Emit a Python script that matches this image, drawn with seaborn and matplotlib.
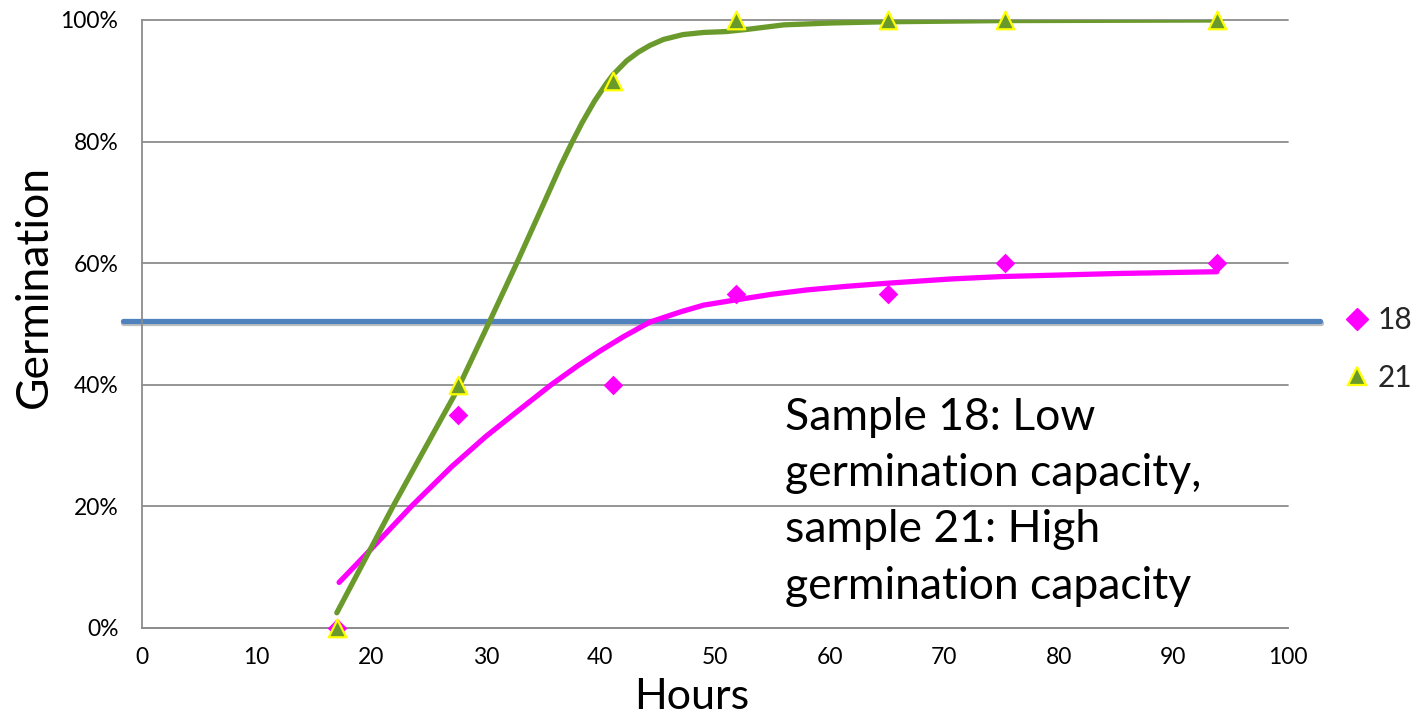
import matplotlib
matplotlib.use("Agg")
import matplotlib.pyplot as plt
import matplotlib.patheffects as pe
from matplotlib.lines import Line2D
from matplotlib.ticker import PercentFormatter, MultipleLocator
import seaborn as sns

# ---------------- data ----------------
hours = [17, 27.6, 41.1, 51.8, 65.1, 75.3, 93.8]
sample_18 = [0, 35, 40, 55, 55, 60, 60]
sample_21 = [0, 40, 90, 100, 100, 100, 100]

trend18_hours = [17.2, 20, 23.5, 27, 30, 33, 35.7, 38, 40, 42, 44.3, 47, 49, 51.6,
                 55, 58, 61.5, 65, 70.5, 75, 85, 93.8]
trend18_values = [7.5, 13, 20, 26.5, 31.5, 36, 40, 43.1, 45.6, 47.9, 50.3, 52.0, 53.1, 53.9,
                  54.9, 55.6, 56.2, 56.7, 57.4, 57.8, 58.3, 58.6]

trend21_hours = [17, 21.9, 25, 27.5, 30.4, 32.7, 35, 36.5, 37.5, 38.4, 39.5, 40.5, 41.1, 42.3,
                 43.3, 44.3, 45.5, 47.2, 49, 51, 53, 56, 60, 64.7, 75, 93.8]
trend21_values = [2.5, 20, 30.6, 39.1, 50.7, 60, 69.6, 75.9, 79.8, 83.1, 86.7, 89.5, 91.0, 93.3,
                  94.7, 95.8, 96.8, 97.6, 97.95, 98.1, 98.5, 99.2, 99.5, 99.7, 99.9, 100]

threshold_value = 50.5
threshold_span = [-1.7, 102.8]

legend_labels = ["18", "21"]
note_text = "Sample 18: Low\ngermination capacity,\nsample 21: High\ngermination capacity"

# ---------------- style ----------------
sns.set_theme(style="white")
plt.rcParams["font.family"] = ["Lato", "DejaVu Sans"]

MAGENTA = "#FF00FF"
GREEN = "#6B9A2C"
YELLOW = "#FFFF00"
BLUE = "#4F81BD"
GRAY = "#8C8C8C"

fig = plt.figure(figsize=(14.14, 7.19), dpi=100)
ax = fig.add_axes([142 / 1414, 1 - 628 / 719, (1288 - 142) / 1414, (628 - 20) / 719])

# threshold line (extends beyond the plot area)
sns.lineplot(x=threshold_span, y=[threshold_value] * len(threshold_span), ax=ax,
             color=BLUE, linewidth=3.8, clip_on=False, zorder=2, estimator=None,
             path_effects=[pe.SimpleLineShadow(offset=(0.3, -1.8), shadow_color="black", alpha=0.25),
                           pe.Normal()])

# trend curves
sns.lineplot(x=trend18_hours, y=trend18_values, ax=ax, color=MAGENTA, linewidth=3.8,
             zorder=3, estimator=None, sort=False)
sns.lineplot(x=trend21_hours, y=trend21_values, ax=ax, color=GREEN, linewidth=3.8,
             zorder=3, estimator=None, sort=False)

# markers
sns.scatterplot(x=hours, y=sample_18, ax=ax, marker="D", s=100, color=MAGENTA,
                linewidth=0, zorder=4, clip_on=False)
sns.scatterplot(x=hours, y=sample_21, ax=ax, marker="^", s=160, color=GREEN,
                edgecolor=YELLOW, linewidth=1.6, zorder=5, clip_on=False)

# axes
ax.set_xlim(0, 100)
ax.set_ylim(0, 100)
ax.xaxis.set_major_locator(MultipleLocator(10))
ax.yaxis.set_major_locator(MultipleLocator(20))
ax.yaxis.set_major_formatter(PercentFormatter(100, decimals=0))
ax.grid(axis="y", color=GRAY, linewidth=1.3)
ax.grid(axis="x", visible=False)
for g in ax.get_ygridlines():
    g.set_clip_on(False)
for side in ("top", "right"):
    ax.spines[side].set_visible(False)
for side in ("left", "bottom"):
    ax.spines[side].set_color(GRAY)
    ax.spines[side].set_linewidth(1.3)
ax.tick_params(axis="both", direction="out", length=6, width=1.3, color=GRAY,
               labelsize=16.5, labelcolor="black")
ax.tick_params(axis="y", pad=11)
ax.tick_params(axis="x", pad=8)

ax.set_xlabel("Hours", fontsize=31, color="black")
ax.set_ylabel("Germination", fontsize=32, color="black")
ax.xaxis.set_label_coords((692 - 142) / 1146, -0.083)
ax.yaxis.set_label_coords(-0.076, (628 - 286) / 608)

# annotation
ax.text(785 / 1414, 1 - 397 / 719, note_text, transform=fig.transFigure,
        fontsize=32, va="top", ha="left", color="black", linespacing=1.46)

# legend
handles = [
    Line2D([], [], marker="D", linestyle="none", color=MAGENTA, markersize=11),
    Line2D([], [], marker="^", linestyle="none", markerfacecolor=GREEN,
           markeredgecolor=YELLOW, markeredgewidth=1.6, markersize=13),
]
fig.legend(handles, legend_labels, loc="center left",
           bbox_to_anchor=(1345 / 1414, 1 - 349 / 719), frameon=False,
           fontsize=21.5, handlelength=0.8, handletextpad=0.3, labelspacing=1.0,
           borderaxespad=0, borderpad=0)

fig.savefig("out.png", dpi=100)
